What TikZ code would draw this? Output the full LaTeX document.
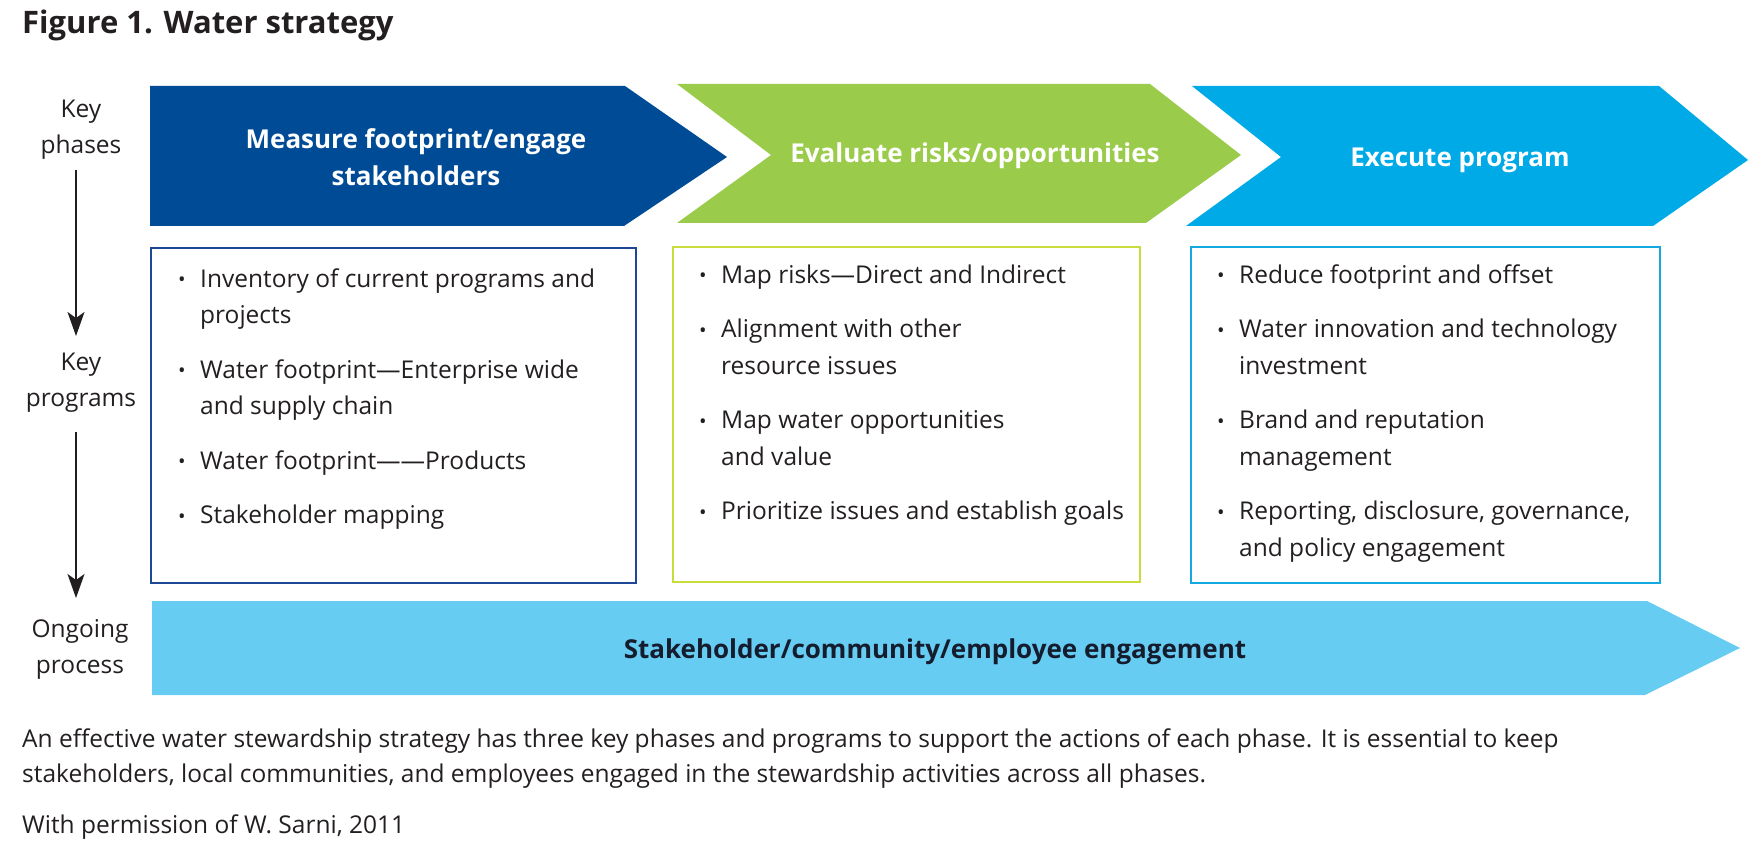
\documentclass[tikz,border=0pt]{standalone}
\usepackage{fontspec}
\setmainfont{Open Sans}
\usetikzlibrary{arrows.meta}
\definecolor{phaseblue}{RGB}{0,75,150}
\definecolor{phasegreen}{RGB}{155,203,75}
\definecolor{phasecyan}{RGB}{0,170,230}
\definecolor{ongoing}{RGB}{102,204,242}
\definecolor{boxblue}{RGB}{30,72,150}
\definecolor{boxgreen}{RGB}{200,220,60}
\definecolor{boxcyan}{RGB}{20,170,225}
\definecolor{txt}{RGB}{35,31,32}
\definecolor{navytxt}{RGB}{20,28,45}
\newcommand\bul{\makebox[22pt][l]{\raisebox{0.5pt}{\fontsize{20}{20}\selectfont •}}}
\newcommand\ind{\hspace*{22pt}}
\begin{document}
\begin{tikzpicture}[x=1pt,y=-1pt,
  body/.style={font=\fontsize{24.5}{36.5}\selectfont, text=txt, inner sep=0pt},
  bodyitems/.style={body, align=left, anchor=north west},
  sidelabel/.style={body, align=center, anchor=north},
  phasetxt/.style={font=\bfseries\fontsize{26}{37}\selectfont, text=white, inner sep=0pt},
  progbox/.style={draw, line width=2pt, fill=none},
  flow/.style={line width=1.4pt, draw=txt, -{Stealth[length=24pt,width=17pt,inset=6pt]}}
]
\useasboundingbox (0,0) rectangle (1764,850);

% title
\node[font=\bfseries\fontsize{31}{36}\selectfont, text=txt, inner sep=0pt, anchor=base west] (title) at (22,34) {Figure 1. Water strategy};

% phase chevrons
\fill[phaseblue] (150,86) -- (625,86) -- (727,157) -- (624,226) -- (150,226) -- cycle;
\fill[phasegreen] (677,84) -- (1150,84) -- (1241,155) -- (1146,223) -- (677,223) -- (771,155) -- cycle;
\fill[phasecyan] (1192,86) -- (1659,86) -- (1748,160) -- (1653,226) -- (1186,226) -- (1281,157) -- cycle;

\node[phasetxt, align=center, anchor=north] (p1) at (416,{148-25.9}) {\strut Measure footprint/engage\\stakeholders};
\node[phasetxt, anchor=base] (p2) at (975,163) {Evaluate risks/opportunities};
\node[phasetxt, anchor=base] (p3) at (1460,167) {Execute program};

% program boxes
\node[progbox, draw=boxblue, minimum width=485pt, minimum height=335pt, anchor=north west] (b1) at (150,247) {};
\node[progbox, draw=boxgreen, minimum width=467pt, minimum height=335pt, anchor=north west] (b2) at (672,246) {};
\node[progbox, draw=boxcyan, minimum width=469pt, minimum height=336pt, anchor=north west] (b3) at (1190,246) {};

\node[bodyitems] (i1) at (178,{287-25.55}) {\strut\bul Inventory of current programs and\\ \ind projects\\[18pt]
\bul Water footprint—Enterprise wide\\ \ind and supply chain\\[18pt]
\bul Water footprint——Products\\[18pt]
\bul Stakeholder mapping};

\node[bodyitems] (i2) at (699,{283-25.55}) {\strut\bul Map risks—Direct and Indirect\\[18pt]
\bul Alignment with other\\ \ind resource issues\\[18pt]
\bul Map water opportunities\\ \ind and value\\[18pt]
\bul Prioritize issues and establish goals};

\node[bodyitems] (i3) at (1217,{283-25.55}) {\strut\bul Reduce footprint and offset\\[18pt]
\bul Water innovation and technology\\ \ind investment\\[18pt]
\bul Brand and reputation\\ \ind management\\[18pt]
\bul Reporting, disclosure, governance,\\ \ind and policy engagement};

% ongoing process arrow
\fill[ongoing] (152,601) -- (1647,601) -- (1740,648) -- (1645,695) -- (152,695) -- cycle;
\node[phasetxt, text=navytxt, anchor=base] (eng) at (935,658) {Stakeholder/community/employee engagement};

% side labels and flow arrows
\node[sidelabel] (kph) at (81,{117-25.55}) {\strut Key\\phases};
\node[sidelabel] (kpr) at (81,{370-25.55}) {\strut Key\\programs};
\node[sidelabel] (ogp) at (80,{637-25.55}) {\strut Ongoing\\process};
\coordinate (f1s) at (76,170);
\coordinate (f1e) at (76,336);
\coordinate (f2s) at (76,432);
\coordinate (f2e) at (76,598);
\draw[flow] (f1s) -- (f1e);
\draw[flow] (f2s) -- (f2e);

% caption
\node[body, anchor=base west] (c1) at (22,747) {An effective water stewardship strategy has three key phases and programs to support the actions of each phase. It is essential to keep};
\node[body, anchor=base west] (c2) at (22,782) {stakeholders, local communities, and employees engaged in the stewardship activities across all phases.};
\node[body, anchor=base west] (c3) at (22,833) {With permission of W. Sarni, 2011};
\end{tikzpicture}
\end{document}
